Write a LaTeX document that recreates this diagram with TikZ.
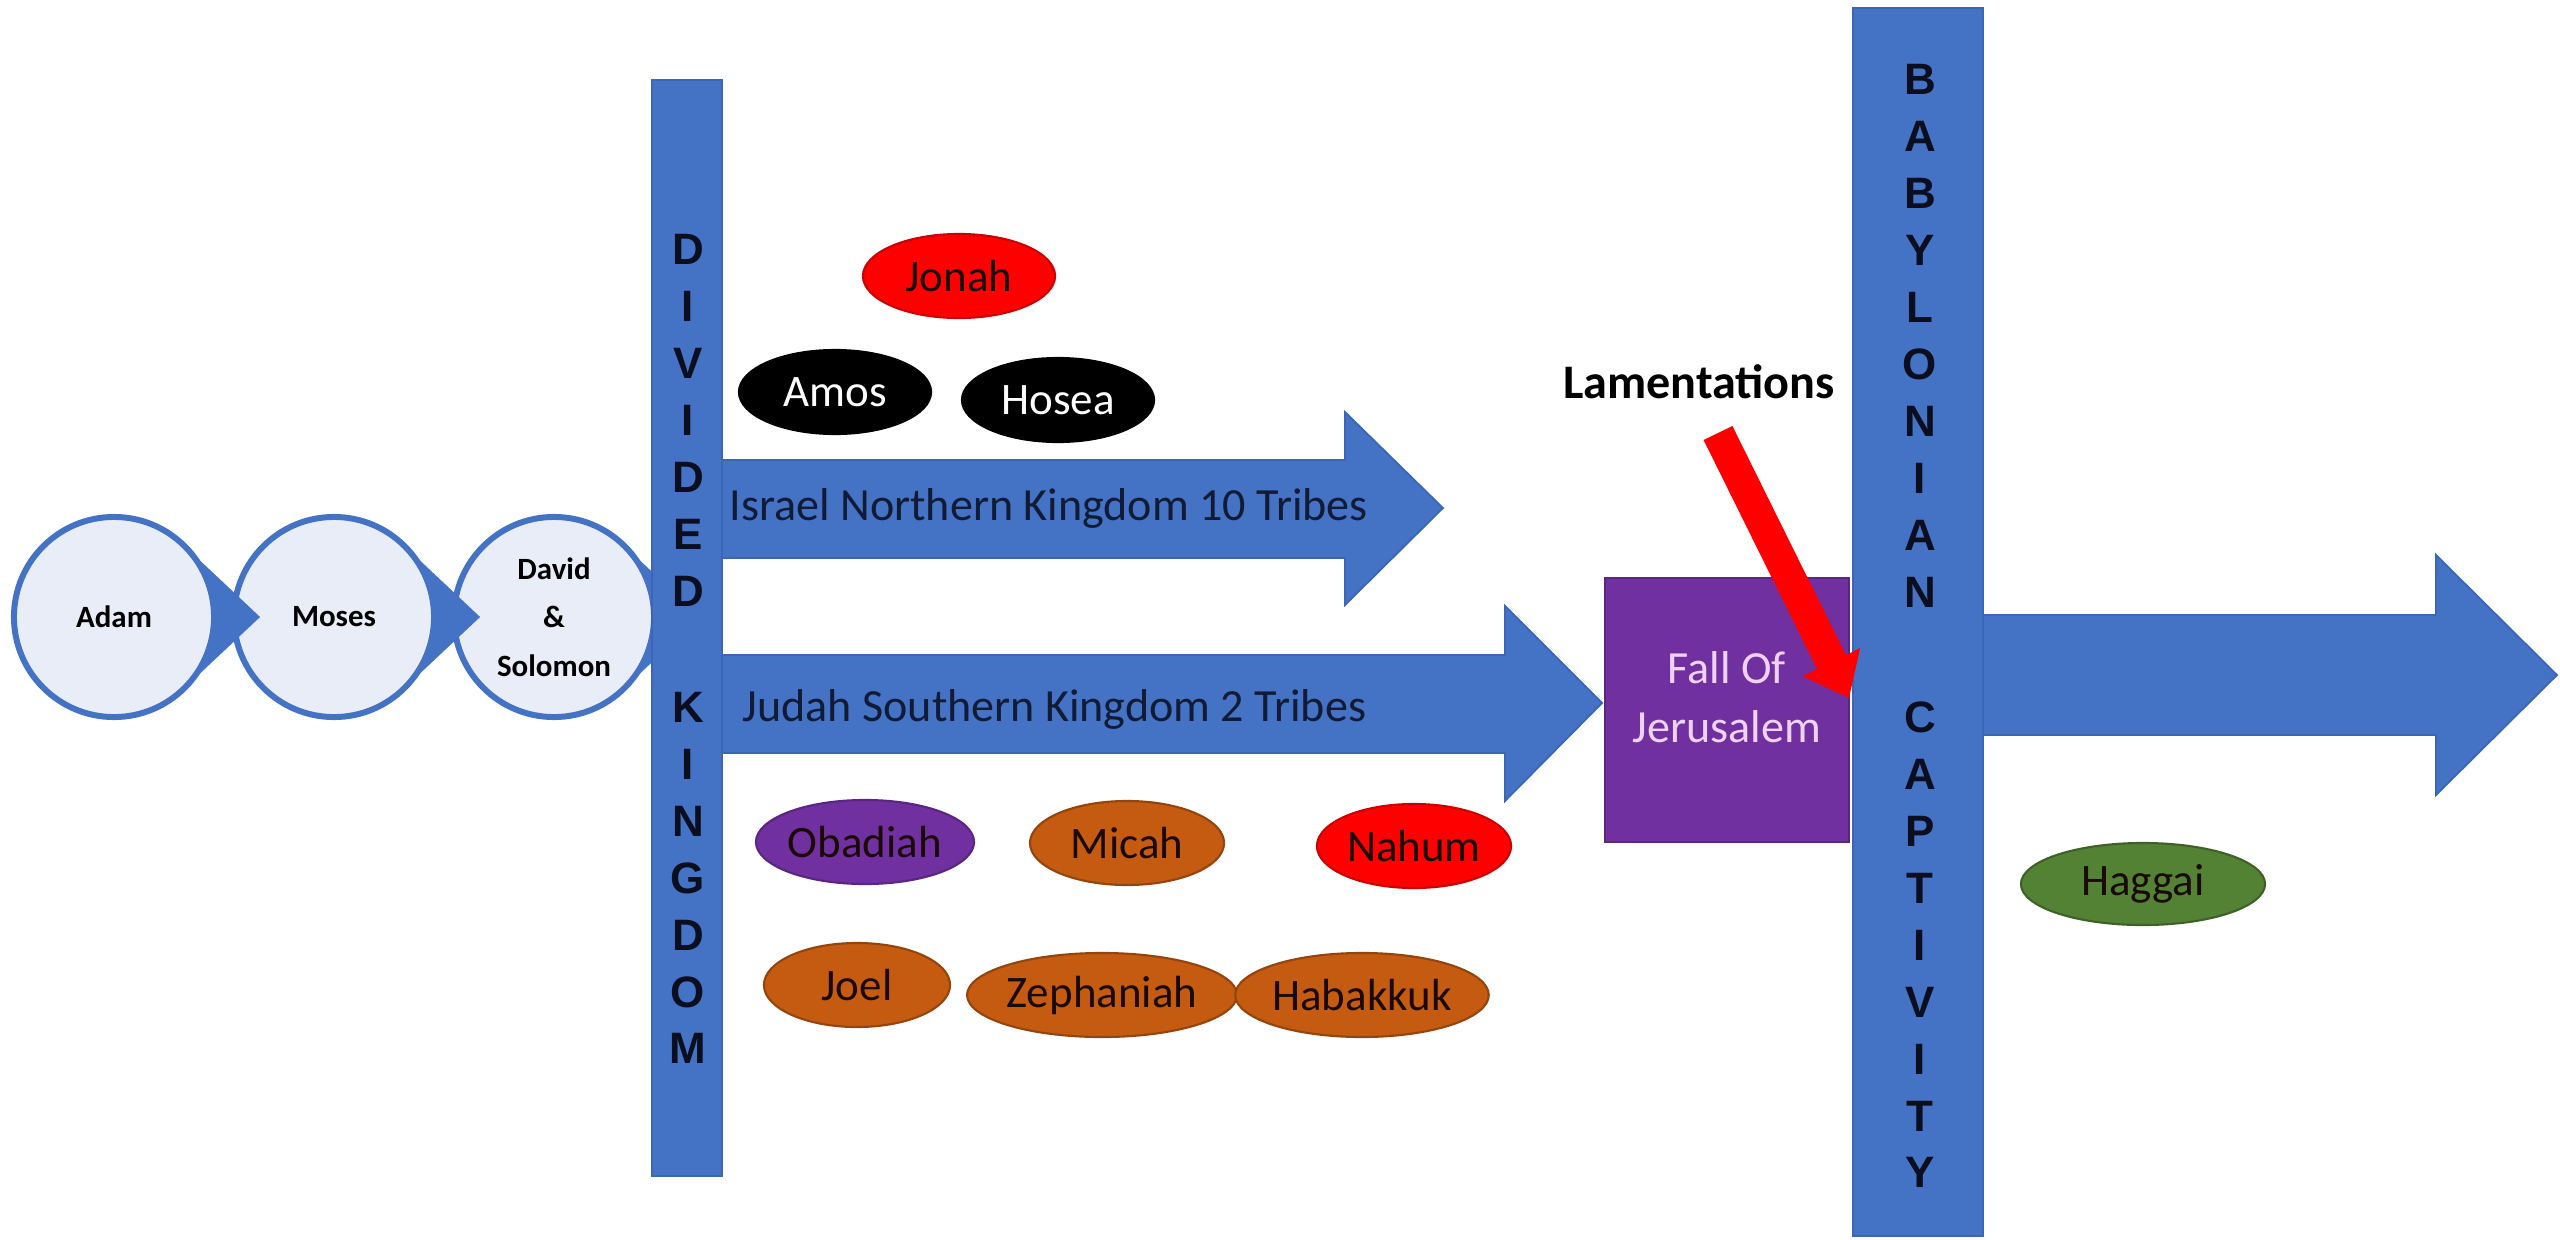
\documentclass[tikz,border=0pt]{standalone}
\usepackage{fontspec}
\setmainfont{Carlito}
\newfontfamily\barfont{Liberation Sans}
\usetikzlibrary{shapes.geometric,calc}
\definecolor{ppblue}{HTML}{4472C4}
\definecolor{ppblueline}{HTML}{3A66B5}
\definecolor{circfill}{HTML}{E9EDF7}
\definecolor{pppurple}{HTML}{7030A0}
\definecolor{pporange}{HTML}{C55A11}
\definecolor{ppgreen}{HTML}{548235}
\definecolor{ppred}{HTML}{FF0000}
\definecolor{navytext}{HTML}{111B35}
\definecolor{pinktext}{HTML}{F0D2F4}
\definecolor{darktext}{HTML}{1A0A05}
\begin{document}
\begin{tikzpicture}[x=0.01cm,y=-0.01cm,
  stage/.style={circle, draw=ppblue, line width=1.7pt, fill=circfill, minimum size=2.0cm,
    inner sep=0pt, font=\fontsize{8.8}{13.8}\selectfont\bfseries, align=center, text=black},
  stagetip/.style={fill=ppblue},
  prophet/.style={ellipse, inner sep=0pt, minimum height=0.84cm, line width=0.6pt,
    font=\fontsize{12.8}{15}\selectfont},
  bigbar/.style={rectangle, fill=ppblue, draw=ppblueline, line width=0.6pt, inner sep=0pt},
  barletters/.style={font=\barfont\bfseries\fontsize{12.5}{16.2}\selectfont, align=center,
    text={rgb,255:red,10;green,14;blue,30}, inner sep=0pt},
  bigarrow/.style={fill=ppblue, draw=ppblueline, line width=0.5pt},
  arrowtext/.style={font=\fontsize{13.1}{15}\selectfont, text=navytext, inner sep=0pt}
]
\useasboundingbox (0,0) rectangle (2560,1239);
\fill[white] (0,0) rectangle (2560,1239);

% stage circles (drawn right to left so tips overlap the next circle)
\coordinate (cD) at (554,617);
\coordinate (cM) at (334,617);
\coordinate (cA) at (114,617);
\fill[stagetip] ($(cD)+(46:1.0cm)$) -- ($(cD)+(1.46cm,0cm)$) -- ($(cD)+(-46:1.0cm)$) -- (cD) -- cycle;
\node[stage] (david) at (cD) {David\\\&\\Solomon};
\fill[stagetip] ($(cM)+(46:1.0cm)$) -- ($(cM)+(1.46cm,0cm)$) -- ($(cM)+(-46:1.0cm)$) -- (cM) -- cycle;
\node[stage] (moses) at (cM) {Moses};
\fill[stagetip] ($(cA)+(46:1.0cm)$) -- ($(cA)+(1.46cm,0cm)$) -- ($(cA)+(-46:1.0cm)$) -- (cA) -- cycle;
\node[stage] (adam) at (cA) {Adam};

% big arrows
\draw[bigarrow] (700,460) -- (1345,460) -- (1345,412) -- (1443,508) -- (1345,605) -- (1345,558) -- (700,558) -- cycle;
\draw[bigarrow] (700,655) -- (1505,655) -- (1505,606) -- (1602,703) -- (1505,801) -- (1505,753) -- (700,753) -- cycle;
\draw[bigarrow] (1960,615) -- (2436,615) -- (2436,555) -- (2557,675) -- (2436,795) -- (2436,735) -- (1960,735) -- cycle;

\node[arrowtext, anchor=west] (israeltext) at (729,508) {Israel Northern Kingdom 10 Tribes};
\node[arrowtext, anchor=west] (judahtext) at (742,709) {Judah Southern Kingdom 2 Tribes};

% vertical bars
\node[bigbar, minimum width=0.70cm, minimum height=10.96cm] (dkbar) at (687,628) {};
\node[barletters] (dktext) at (688,649) {D\\I\\V\\I\\D\\E\\D\\[16.8pt]K\\I\\N\\G\\D\\O\\M};
\node[bigbar, minimum width=1.30cm, minimum height=12.28cm] (bcbar) at (1918,622) {};
\node[barletters] (bctext) at (1920,626) {B\\A\\B\\Y\\L\\O\\N\\I\\A\\N\\[19.4pt]C\\A\\P\\T\\I\\V\\I\\T\\Y};

% fall of Jerusalem
\node[rectangle, fill=pppurple, draw=pppurple!80!black, line width=0.5pt, inner sep=0pt,
  minimum width=2.44cm, minimum height=2.64cm] (fall) at (1727,710) {};
\node[font=\fontsize{13.1}{16.8}\selectfont, text=pinktext, align=center, inner sep=0pt]
  (falltext) at (1727,697) {Fall Of\\Jerusalem};

% prophets
\node[prophet, fill=ppred, draw=ppred!80!black, minimum width=1.92cm, text=darktext] (jonah) at (959,276) {Jonah};
\node[prophet, fill=black, draw=black, minimum width=1.92cm, text=white] (amos) at (835,392) {Amos};
\node[prophet, fill=black, draw=black, minimum width=1.92cm, text=white] (hosea) at (1058,400) {Hosea};
\node[prophet, fill=pppurple, draw=pppurple!80!black, minimum width=1.94cm, text=darktext] (obadiah) at (865,842) {Obadiah};
\node[prophet, fill=pporange, draw=pporange!75!black, minimum width=1.94cm, text=darktext] (micah) at (1127,843) {Micah};
\node[prophet, fill=ppred, draw=ppred!80!black, minimum width=1.94cm, text=darktext] (nahum) at (1414,846) {Nahum};
\node[prophet, fill=pporange, draw=pporange!75!black, minimum width=1.86cm, text=darktext] (joel) at (857,985) {Joel};
\node[prophet, fill=pporange, draw=pporange!75!black, minimum width=2.38cm, text=darktext] (zephaniah) at (1102,995) {Zephaniah};
\node[prophet, fill=pporange, draw=pporange!75!black, minimum width=2.34cm, text=darktext] (habakkuk) at (1362,995) {Habakkuk};
\node[prophet, fill=ppgreen, draw=ppgreen!75!black, minimum width=2.44cm, minimum height=0.82cm, text=darktext] (haggai) at (2143,884) {Haggai};

% Lamentations and red arrow
\node[font=\fontsize{13.7}{16}\selectfont\bfseries, text=black, inner sep=0pt] (lament) at (1699,382) {Lamentations};
\fill[ppred] (1732.4,426.0) -- (1845.8,655.1) -- (1860.1,648.0) -- (1849,698) -- (1802.7,676.2) -- (1817.0,669.1) -- (1703.6,440.0) -- cycle;
\end{tikzpicture}
\end{document}
